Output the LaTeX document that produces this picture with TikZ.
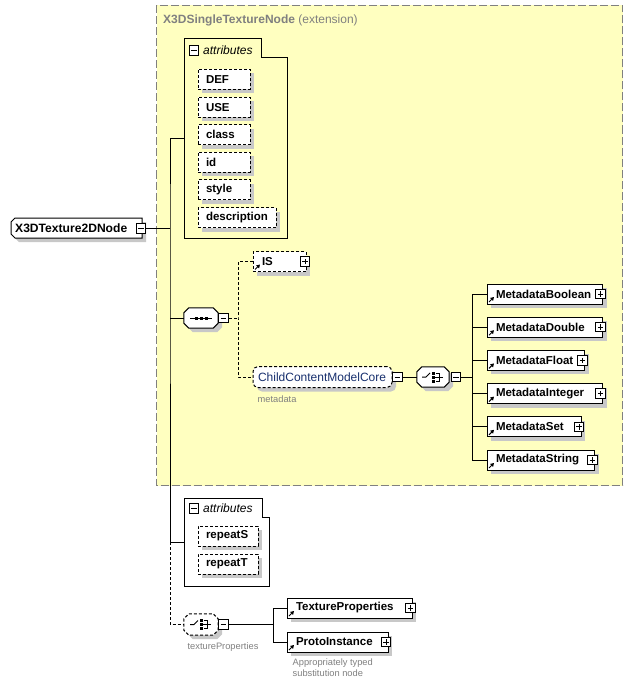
\documentclass[tikz,border=0pt]{standalone}
\usepackage{fontspec}
\setmainfont{Liberation Sans}
\usetikzlibrary{shadows,arrows.meta}
\definecolor{yel}{RGB}{255,255,192}
\definecolor{frame}{RGB}{128,128,128}
\definecolor{shd}{RGB}{200,200,200}
\definecolor{navy}{RGB}{24,48,110}
\definecolor{lbl}{RGB}{128,128,128}
\tikzset{
  ln/.style={line width=1pt},
  shad/.style={general shadow={fill=shd, shadow xshift=4pt, shadow yshift=-4pt}},
  opt/.style={dash pattern=on 3pt off 2pt},
  elem/.style={draw, fill=white, ln, shad, minimum height=20pt, inner ysep=0pt, inner xsep=8pt, align=left, font=\fontsize{11.5}{13}\selectfont\bfseries},
  lelem/.style={elem, inner xsep=9pt},
  pmbox/.style={draw, fill=white, ln, minimum size=9.5pt, inner sep=0pt},
  minus/.style={pmbox, path picture={\draw[ln] ([xshift=2pt]path picture bounding box.west) -- ([xshift=-2pt]path picture bounding box.east);}},
  plus/.style={pmbox, path picture={\draw[ln] ([xshift=2pt]path picture bounding box.west) -- ([xshift=-2pt]path picture bounding box.east); \draw[ln] ([yshift=2pt]path picture bounding box.south) -- ([yshift=-2pt]path picture bounding box.north);}},
  octnode/.style={inner sep=0pt, minimum width=34pt, minimum height=20pt},
  small/.style={text=lbl, inner sep=0pt, font=\fontsize{9.3}{11}\selectfont},
}
\newcommand\octo[2]{\draw[ln,fill=white,shad,#2] ([xshift=5pt]#1.north west) -- ([xshift=-5pt]#1.north east) -- ([yshift=-5pt]#1.north east) -- ([yshift=5pt]#1.south east) -- ([xshift=-5pt]#1.south east) -- ([xshift=5pt]#1.south west) -- ([yshift=5pt]#1.south west) -- ([yshift=-5pt]#1.north west) -- cycle;}
\newcommand\lnk[1]{\draw[line width=1pt,-{Triangle[length=3.5pt,width=4pt]}] ([xshift=2.5pt,yshift=2.5pt]#1.south west) -- ([xshift=7.5pt,yshift=7.5pt]#1.south west);}
\newcommand\seqsym[1]{\begin{scope}[shift={(#1.center)}]
  \draw[ln] (-11,0) -- (11,0);
  \fill (-6.5,-1.5) rectangle (-3.5,1.5);
  \fill (-1.5,-1.5) rectangle (1.5,1.5);
  \fill (3.5,-1.5) rectangle (6.5,1.5);
\end{scope}}
\newcommand\chsym[1]{\begin{scope}[shift={(#1.center)}]
  \draw[ln] (-11,0) -- (-7,0) -- (-3,-4);
  \fill (-1.5,-5.5) rectangle (1.5,-2.5);
  \fill (-1.5,-1.5) rectangle (1.5,1.5);
  \fill (-1.5,2.5) rectangle (1.5,5.5);
  \draw[ln] (2.5,-4) -- (6,-4) -- (6,4) -- (2.5,4);
  \draw[ln] (1.5,0) -- (6,0);
  \draw[ln] (6,0) -- (10,0);
\end{scope}}
\begin{document}
\begin{tikzpicture}[x=1pt,y=-1pt,font=\fontsize{12}{14}\selectfont]
\useasboundingbox (0,0) rectangle (633,687);
% extension group
\draw[fill=yel, draw=frame, line width=1pt, dash pattern=on 8pt off 3pt] (156.5,5.5) rectangle (622.5,485.5);
\node[anchor=base west, inner sep=0pt, text=frame] (title) at (163,23.5) {\textbf{X3DSingleTextureNode} (extension)};

% root
\draw[ln,fill=white,shad] (15,218) -- (142,218) -- (142,238) -- (15,238) -- (11,234) -- (11,222) -- cycle;
\node[anchor=west, inner xsep=4pt, inner ysep=0pt, font=\fontsize{12.1}{13}\selectfont\bfseries] (root) at (11,228) {X3DTexture2DNode};
\node[minus] (rootm) at (141,228.5) {};

% attributes 1
\node[inner sep=0pt, minimum width=103pt, minimum height=199pt] (attr1) at (235.5,138.5) {};
\draw[ln] (184,39) -- (261,39) -- (261,58) -- (287,58) -- (287,238) -- (184,238) -- cycle;
\node[minus] (attr1m) at (194,50.5) {};
\node[anchor=west, inner sep=0pt, font=\fontsize{12}{14}\selectfont\itshape] (attr1l) at (203,50) {attributes};
\node[elem,opt,text width=36pt] (def) at (224,79.5) {DEF};
\node[elem,opt,text width=36pt] (use) at (224,107.1) {USE};
\node[elem,opt,text width=36pt] (cls) at (224,134.7) {class};
\node[elem,opt,text width=36pt] (idn) at (224,162.3) {id};
\node[elem,opt,text width=36pt] (sty) at (224,189.9) {style};
\node[elem,opt,text width=62pt] (dsc) at (237,217.5) {description};

% sequence
\node[octnode] (seq) at (201,318) {};
\octo{seq}{}
\seqsym{seq}
\node[minus] (seqm) at (223.5,318) {};

% IS
\node[lelem,opt,text width=35pt] (is) at (279.5,261.5) {IS};
\lnk{is}
\node[plus] (ism) at (305,261.5) {};

% ChildContentModelCore
\node[draw, fill=white, ln, shad, opt, rounded corners=5pt, minimum height=21pt, inner ysep=0pt, inner xsep=5pt, text width=129pt, align=left, text=navy] (ccmc) at (322.5,377) {ChildContentModelCore};
\node[minus] (ccmcm) at (397.3,377) {};
\node[small, anchor=west] (mdl) at (257.5,399) {metadata};

% choice
\node[octnode, minimum width=32pt] (ch) at (433,377) {};
\octo{ch}{}
\chsym{ch}
\node[minus] (chm) at (456,377) {};

% metadata elements
\node[lelem,text width=97.5pt] (mb) at (544.75,294) {MetadataBoolean};
\lnk{mb}
\node[plus] (mbp) at (600.5,294) {};
\node[lelem,text width=97.5pt] (md) at (544.75,327.2) {MetadataDouble};
\lnk{md}
\node[plus] (mdp) at (600.5,327.2) {};
\node[lelem,text width=79.5pt] (mf) at (535.75,360.4) {MetadataFloat};
\lnk{mf}
\node[plus] (mfp) at (582.5,360.4) {};
\node[lelem,text width=97.5pt] (mi) at (544.75,393.6) {MetadataInteger};
\lnk{mi}
\node[plus] (mip) at (600.5,393.6) {};
\node[lelem,text width=76pt] (ms) at (534,426.8) {MetadataSet};
\lnk{ms}
\node[plus] (msp) at (579,426.8) {};
\node[lelem,text width=89.5pt] (mst) at (540.75,460) {MetadataString};
\lnk{mst}
\node[plus] (mstp) at (592.5,460) {};

% attributes 2
\node[inner sep=0pt, minimum width=85pt, minimum height=88pt] (attr2) at (226.5,542) {};
\draw[ln] (184,498) -- (262,498) -- (262,517) -- (269,517) -- (269,586) -- (184,586) -- cycle;
\node[minus] (attr2m) at (194,508.5) {};
\node[anchor=west, inner sep=0pt, font=\fontsize{12}{14}\selectfont\itshape] (attr2l) at (203,508) {attributes};
\node[elem,opt,text width=44pt] (rs) at (228,536) {repeatS};
\node[elem,opt,text width=44pt] (rt) at (228,564) {repeatT};

% textureProperties choice
\node[octnode, minimum height=21pt] (tpch) at (201,624.5) {};
\octo{tpch}{opt}
\chsym{tpch}
\node[minus] (tpchm) at (223.3,624.5) {};
\node[small] (tpl) at (223,647) {textureProperties};

\node[lelem,text width=107pt] (tp) at (349.5,608) {TextureProperties};
\lnk{tp}
\node[plus] (tpp) at (410.5,608) {};
\node[lelem,text width=83pt] (pi) at (337.5,642) {ProtoInstance};
\lnk{pi}
\node[plus] (pip) at (386,642) {};
\node[small, anchor=north west, align=left] (note) at (292.5,659) {Appropriately typed\\substitution node};

% connectors
\coordinate (sp) at (170,228.5);
\draw[ln] (rootm.east) -- (sp);
\draw[ln] (attr1.west) -| (sp) -- (sp |- attr2.west) -- (attr2.west);
\draw[ln] (seq.west) -- (sp |- seq.west);
\draw[ln,opt] (sp |- attr2.west) |- (tpch.west);

\coordinate (sb) at (238,318);
\draw[ln,opt] (seqm.east) -- (sb);
\draw[ln,opt] (is.west) -| (sb) |- (ccmc.west);

\draw[ln] (ccmcm.east) -- (ch.west);
\coordinate (mbr) at (472,377);
\draw[ln] (chm.east) -- (mbr);
\draw[ln] (mb.west) -| (mbr);
\draw[ln] (md.west) -| (mbr);
\draw[ln] (mf.west) -| (mbr);
\draw[ln] (mi.west) -| (mbr);
\draw[ln] (ms.west) -| (mbr);
\draw[ln] (mst.west) -| (mbr);

\coordinate (tbr) at (273,624.5);
\draw[ln] (tpchm.east) -- (tbr);
\draw[ln] (tp.west) -| (tbr);
\draw[ln] (pi.west) -| (tbr);
\end{tikzpicture}
\end{document}
